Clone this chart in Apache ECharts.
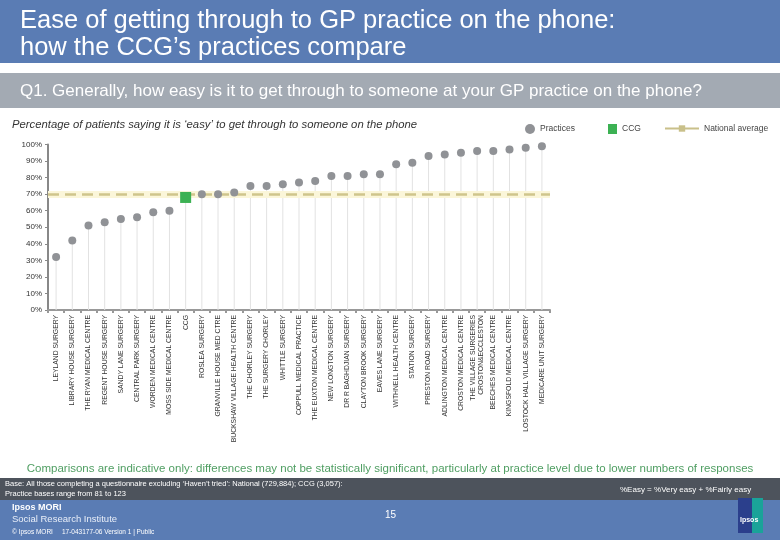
<!DOCTYPE html>
<html>
<head>
<meta charset="utf-8">
<script src="https://cdn.jsdelivr.net/npm/echarts@6/dist/echarts.min.js"></script>
<style>
html,body{margin:0;padding:0;background:#fff;}
#chart{width:780px;height:540px;}
</style>
</head>
<body>
<div id="chart"></div>
<script>
const categories = [
  'LEYLAND SURGERY','LIBRARY HOUSE SURGERY','THE RYAN MEDICAL CENTRE','REGENT HOUSE SURGERY',
  'SANDY LANE SURGERY','CENTRAL PARK SURGERY','WORDEN MEDICAL CENTRE','MOSS SIDE MEDICAL CENTRE',
  'CCG','ROSLEA SURGERY','GRANVILLE HOUSE MED CTRE','BUCKSHAW VILLAGE HEALTH CENTRE',
  'THE CHORLEY SURGERY','THE SURGERY CHORLEY','WHITTLE SURGERY','COPPULL MEDICAL PRACTICE',
  'THE EUXTON MEDICAL CENTRE','NEW LONGTON SURGERY','DR R BAGHDJIAN SURGERY','CLAYTON BROOK SURGERY',
  'EAVES LANE SURGERY','WITHNELL HEALTH CENTRE','STATION SURGERY','PRESTON ROAD SURGERY',
  'ADLINGTON MEDICAL CENTRE','CROSTON MEDICAL CENTRE','THE VILLAGE SURGERIES\nCROSTON&ECCLESTON',
  'BEECHES MEDICAL CENTRE','KINGSFOLD MEDICAL CENTRE','LOSTOCK HALL VILLAGE SURGERY','MEDICARE UNIT SURGERY'
];
const practiceValues = [32,42,51,53,55,56,59,60,null,70,70,71,75,75,76,77,78,81,81,82,82,88,89,93,94,95,96,96,97,98,99];
const ccgName = 'CCG';
const ccgValue = 68;
const nationalAverage = 70;
const yTicks = [0,10,20,30,40,50,60,70,80,90,100];

const ccgData = categories.map(c => c === ccgName ? ccgValue : null);
const stemData = categories.map((c, i) => c === ccgName ? ccgValue : practiceValues[i]);

const FONT = "'Liberation Sans', Arial, sans-serif";
const chart = echarts.init(document.getElementById('chart'), null, {renderer: 'canvas'});

const option = {
  animation: false,
  backgroundColor: '#ffffff',
  textStyle: {fontFamily: FONT},
  grid: {left: 48, right: 230, top: 144.5, bottom: 230, containLabel: false},
  legend: [
    {data: ['Practices'], left: 520, top: 119, icon: 'circle', itemWidth: 10, itemHeight: 10,
     textStyle: {fontSize: 8.5, color: '#444', fontFamily: FONT}, selectedMode: false},
    {data: ['CCG'], left: 603, top: 119, icon: 'rect', itemWidth: 9, itemHeight: 10,
     textStyle: {fontSize: 8.5, color: '#444', fontFamily: FONT}, selectedMode: false},
    {data: ['National average'], left: 659, top: 119, itemWidth: 34, itemHeight: 8,
     textStyle: {fontSize: 8.5, color: '#444', fontFamily: FONT}, selectedMode: false}
  ],
  xAxis: {
    type: 'category',
    data: categories,
    boundaryGap: true,
    axisLine: {show: true, lineStyle: {color: '#999', width: 2}},
    axisTick: {show: true, interval: 0, length: 3, lineStyle: {color: '#999', width: 2}},
    axisLabel: {interval: 0, rotate: 90, fontSize: 6.8, color: '#333', margin: 5, fontFamily: FONT, lineHeight: 8},
    splitLine: {show: false}
  },
  yAxis: {
    type: 'value',
    min: 0, max: 100, interval: 10,
    axisLine: {show: true, lineStyle: {color: '#888', width: 2}},
    axisTick: {show: true, length: 3, lineStyle: {color: '#888'}},
    axisLabel: {fontSize: 8, color: '#333', margin: 6, formatter: v => yTicks.includes(v) ? v + '%' : '', fontFamily: FONT},
    splitLine: {show: false}
  },
  series: [
    {
      name: 'stems', type: 'bar', data: stemData, barWidth: 1, silent: true, z: 1,
      itemStyle: {color: '#e2e2e2'}
    },
    {
      name: 'National average', type: 'line', data: categories.map(() => null), z: 2,
      symbol: 'rect', symbolSize: [8, 4],
      lineStyle: {color: '#c9c08a', width: 2}, itemStyle: {color: '#c9c08a'},
      markLine: {
        silent: true, symbol: 'none', label: {show: false}, z: 2,
        data: [
          {yAxis: nationalAverage, lineStyle: {color: '#fbf6d9', width: 7, type: 'solid'}},
          {yAxis: nationalAverage, lineStyle: {color: '#cfc58c', width: 2.5, type: [11, 6]}}
        ]
      }
    },
    {
      name: 'Practices', type: 'scatter', data: practiceValues, symbol: 'circle', symbolSize: 8, z: 6,
      itemStyle: {color: '#909296', opacity: 1}
    },
    {
      name: 'CCG', type: 'scatter', data: ccgData, symbol: 'rect', symbolSize: 11, z: 7,
      itemStyle: {color: '#3cb153', opacity: 1}
    }
  ],
  graphic: [
    {type: 'rect', shape: {x: 0, y: 0, width: 780, height: 63}, style: {fill: '#5a7cb4'}, silent: true},
    {type: 'text', left: 20, top: 8, style: {text: 'Ease of getting through to GP practice on the phone:', fill: '#fff', font: "25.5px " + FONT}},
    {type: 'text', left: 20, top: 35, style: {text: 'how the CCG\u2019s practices compare', fill: '#fff', font: "25.5px " + FONT}},
    {type: 'rect', shape: {x: 0, y: 73, width: 780, height: 35}, style: {fill: '#a3aab3'}, silent: true},
    {type: 'text', left: 20, top: 83, style: {text: 'Q1. Generally, how easy is it to get through to someone at your GP practice on the phone?', fill: '#fff', font: "17px " + FONT}},
    {type: 'text', left: 12, top: 119, style: {text: 'Percentage of patients saying it is \u2018easy\u2019 to get through to someone on the phone', fill: '#333', font: "italic 11.3px " + FONT}},
    {type: 'text', left: 'center', top: 463, style: {text: 'Comparisons are indicative only: differences may not be statistically significant, particularly at practice level due to lower numbers of responses', fill: '#4f9e62', font: "11.5px " + FONT}},
    {type: 'rect', shape: {x: 0, y: 478, width: 780, height: 22}, style: {fill: '#4d535c'}, silent: true},
    {type: 'text', left: 5, top: 480, style: {text: 'Base: All those completing a questionnaire excluding \u2018Haven\u2019t tried\u2019: National (729,884); CCG (3,057):', fill: '#fff', font: "7.5px " + FONT}},
    {type: 'text', left: 5, top: 490, style: {text: 'Practice bases range from 81 to 123', fill: '#fff', font: "7.5px " + FONT}},
    {type: 'text', left: 620, top: 486, style: {text: '%Easy = %Very easy + %Fairly easy', fill: '#fff', font: "8px " + FONT}},
    {type: 'rect', shape: {x: 0, y: 500, width: 780, height: 40}, style: {fill: '#5a7cb4'}, silent: true},
    {type: 'text', left: 12, top: 503, style: {text: 'Ipsos MORI', fill: '#fff', font: "bold 9px " + FONT}},
    {type: 'text', left: 12, top: 514, style: {text: 'Social Research Institute', fill: '#e8eef8', font: "9.5px " + FONT}},
    {type: 'text', left: 12, top: 529, style: {text: '\u00a9 Ipsos MORI     17-043177-06 Version 1 | Public', fill: '#fff', font: "6.5px " + FONT}},
    {type: 'text', left: 385, top: 510, style: {text: '15', fill: '#fff', font: "10px " + FONT}},
    {type: 'rect', shape: {x: 738, y: 498, width: 14, height: 35}, style: {fill: '#2b3f8c'}, silent: true},
    {type: 'rect', shape: {x: 752, y: 498, width: 11, height: 35}, style: {fill: '#1aa399'}, silent: true},
    {type: 'text', left: 740, top: 517, style: {text: 'Ipsos', fill: '#fff', font: "bold 7px " + FONT}}
  ]
};
chart.setOption(option);
</script>
</body>
</html>
